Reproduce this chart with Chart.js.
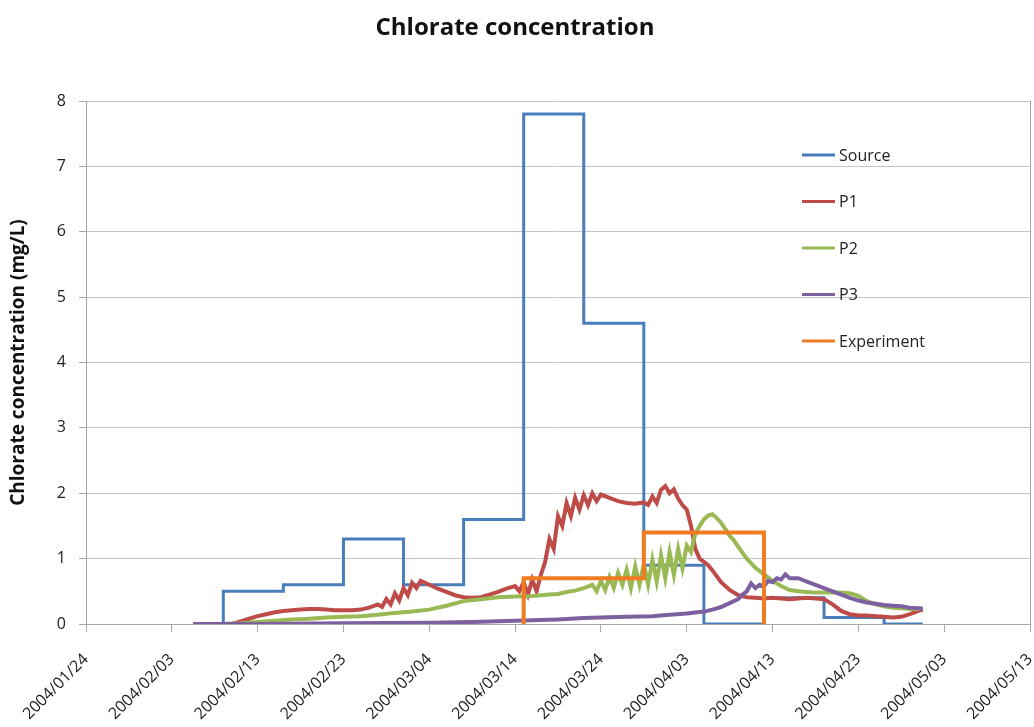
<!DOCTYPE html>
<html lang="en">
<head>
<meta charset="UTF-8">
<script src="https://cdn.jsdelivr.net/npm/chart.js"></script>
<title>Chlorate concentration</title>
<style>
  html, body { margin: 0; padding: 0; background: #fff; }
  #caja { width: 1034px; height: 727px; }
</style>
</head>
<body>
<div id="caja"><canvas id="grafico"></canvas></div>
<script>
// x values are days counted from 2004/01/24
const startDate = Date.UTC(2004, 0, 24);
const xMin = 0, xMax = 110, xStep = 10;
const yMin = 0, yMax = 8, yStep = 1;

const seriesNames = ['Source', 'P1', 'P2', 'P3', 'Experiment'];

// Source: weekly steps (value holds until the next day)
const sourceDays   = [12.5, 16, 23, 30, 37, 44, 51, 58, 65, 72, 79, 86, 93, 97.5];
const sourceValues = [0, 0.5, 0.6, 1.3, 0.6, 1.6, 7.8, 4.6, 0.9, 0, 0.4, 0.1, 0, 0];

// Experiment: steps
const expDays   = [51, 51, 65, 79, 79];
const expValues = [0, 0.7, 1.4, 1.4, 0];

const p1Days = [12.5, 17, 18, 19, 20, 21, 22, 23, 24, 25, 26, 27, 28, 29, 30, 31, 32, 33, 34, 34.5,
  35, 35.5, 36, 36.5, 37, 37.5, 38, 38.5, 39, 40, 41, 42, 43, 44, 45, 46, 47, 48, 49, 50,
  50.5, 51, 51.5, 52, 52.5, 53, 53.5, 54, 54.5, 55, 55.5, 56, 56.5, 57, 57.5, 58, 58.5, 59, 59.5, 60,
  61, 62, 63, 64, 65, 65.5, 66, 66.5, 67, 67.5, 68, 68.5, 69, 69.5, 70, 70.5, 71, 71.5, 72, 72.5,
  73, 74, 75, 76, 77, 78, 79, 80, 81, 82, 83, 84, 85, 86, 87, 88, 89, 90, 91, 92,
  93, 94, 95, 96, 97, 97.5];
const p1Values = [0, 0, 0.04, 0.08, 0.12, 0.15, 0.18, 0.2, 0.21, 0.22, 0.23, 0.23, 0.22, 0.21, 0.21, 0.21, 0.22, 0.25, 0.3, 0.26,
  0.38, 0.3, 0.47, 0.36, 0.55, 0.44, 0.63, 0.55, 0.66, 0.6, 0.54, 0.49, 0.44, 0.41, 0.4, 0.41, 0.45, 0.49, 0.54, 0.58,
  0.5, 0.64, 0.45, 0.68, 0.5, 0.75, 0.95, 1.3, 1.15, 1.65, 1.5, 1.85, 1.65, 1.93, 1.75, 1.97, 1.82, 2.0, 1.88, 1.98,
  1.93, 1.88, 1.85, 1.84, 1.86, 1.82, 1.95, 1.85, 2.05, 2.11, 2.0, 2.06, 1.92, 1.82, 1.75, 1.5, 1.15, 1.0, 0.95, 0.9,
  0.82, 0.64, 0.52, 0.44, 0.41, 0.4, 0.39, 0.4, 0.39, 0.38, 0.39, 0.4, 0.39, 0.38, 0.3, 0.2, 0.15, 0.13, 0.13, 0.12,
  0.11, 0.1, 0.11, 0.15, 0.2, 0.22];

const p2Days = [12.5, 16, 18, 20, 22, 24, 26, 28, 30, 32, 34, 36, 38, 40, 42, 44, 46, 48, 50, 52,
  54, 55, 56, 57, 58, 59, 59.5, 60, 60.5, 61, 61.5, 62, 62.5, 63, 63.5, 64, 64.5, 65, 65.5, 66,
  66.5, 67, 67.5, 68, 68.5, 69, 69.5, 70, 70.5, 71, 71.5, 72, 72.5, 73, 73.5, 74, 74.5, 75, 75.5, 76,
  77, 78, 79, 80, 81, 82, 83, 84, 85, 86, 87, 88, 89, 90, 91, 92, 93, 94, 95, 96,
  97, 97.5];
const p2Values = [0, 0, 0.01, 0.03, 0.05, 0.07, 0.08, 0.1, 0.11, 0.12, 0.14, 0.17, 0.19, 0.22, 0.28, 0.35, 0.38, 0.41, 0.42, 0.43,
  0.45, 0.46, 0.49, 0.51, 0.55, 0.6, 0.5, 0.66, 0.52, 0.72, 0.55, 0.78, 0.6, 0.83, 0.55, 0.88, 0.6, 0.92, 0.6, 0.98,
  0.65, 1.05, 0.7, 1.1, 0.75, 1.15, 0.85, 1.2, 1.1, 1.38, 1.5, 1.6, 1.66, 1.68, 1.62, 1.55, 1.45, 1.35, 1.28, 1.18,
  1.0, 0.86, 0.76, 0.66, 0.58, 0.52, 0.5, 0.49, 0.48, 0.48, 0.48, 0.48, 0.47, 0.43, 0.35, 0.3, 0.27, 0.25, 0.24, 0.23,
  0.23, 0.24];

const p3Days = [12.5, 20, 30, 40, 45, 50, 55, 58, 60, 63, 66, 68, 70, 72, 73, 74, 75, 76, 76.5, 77,
  77.5, 78, 78.5, 79, 79.5, 80, 80.5, 81, 81.5, 82, 83, 84, 85, 86, 87, 88, 89, 90, 91, 92,
  93, 94, 95, 96, 97, 97.5];
const p3Values = [0, 0, 0.01, 0.02, 0.03, 0.05, 0.07, 0.09, 0.1, 0.11, 0.12, 0.14, 0.16, 0.19, 0.22, 0.26, 0.32, 0.38, 0.45, 0.5,
  0.62, 0.55, 0.6, 0.58, 0.66, 0.64, 0.7, 0.68, 0.76, 0.7, 0.7, 0.65, 0.6, 0.55, 0.5, 0.45, 0.4, 0.36, 0.33, 0.31,
  0.29, 0.28, 0.27, 0.25, 0.24, 0.23];

const colores = ['#4a7ebb', '#be4b48', '#98b954', '#7d60a0', '#ef7b22'];
const fuente = "'Open Sans', 'DejaVu Sans', sans-serif";

function puntos(days, values) {
  return days.map((d, i) => ({ x: d, y: values[i] }));
}

function fecha(v) {
  const d = new Date(startDate + v * 86400000);
  const mm = String(d.getUTCMonth() + 1).padStart(2, '0');
  const dd = String(d.getUTCDate()).padStart(2, '0');
  return d.getUTCFullYear() + '/' + mm + '/' + dd;
}

// legend drawn at the right, inside the plot
const leyenda = {
  id: 'leyenda',
  afterDatasetsDraw(chart) {
    const ctx = chart.ctx;
    const area = chart.chartArea;
    const x0 = area.right - 228;
    ctx.save();
    ctx.font = '16px ' + fuente;
    ctx.textBaseline = 'middle';
    ctx.fillStyle = '#222';
    chart.data.datasets.forEach((ds, i) => {
      const y = area.top + 54 + i * 46.5;
      ctx.strokeStyle = ds.borderColor;
      ctx.lineWidth = 3;
      ctx.beginPath();
      ctx.moveTo(x0, y);
      ctx.lineTo(x0 + 33, y);
      ctx.stroke();
      ctx.fillText(ds.label, x0 + 37, y + 1);
    });
    ctx.restore();
  }
};

const datos = [
  { label: seriesNames[0], data: puntos(sourceDays, sourceValues), stepped: true, borderWidth: 3, order: 5 },
  { label: seriesNames[1], data: puntos(p1Days, p1Values), borderWidth: 4, order: 4 },
  { label: seriesNames[2], data: puntos(p2Days, p2Values), borderWidth: 4, order: 3 },
  { label: seriesNames[3], data: puntos(p3Days, p3Values), borderWidth: 4, order: 2 },
  { label: seriesNames[4], data: puntos(expDays, expValues), stepped: true, borderWidth: 4, order: 1 }
].map((ds, i) => Object.assign(ds, {
  borderColor: colores[i],
  backgroundColor: colores[i],
  pointRadius: 0,
  fill: false,
  tension: 0
}));

new Chart(document.getElementById('grafico'), {
  type: 'line',
  data: { datasets: datos },
  options: {
    responsive: true,
    maintainAspectRatio: false,
    animation: false,
    devicePixelRatio: 1,
    layout: { padding: { right: 4, left: 0, bottom: 0 } },
    plugins: {
      legend: { display: false },
      tooltip: { enabled: false },
      title: {
        display: true,
        text: 'Chlorate concentration',
        color: '#111',
        font: { family: fuente, size: 24, weight: 'bold' },
        padding: { top: 14, bottom: 58.2 }
      }
    },
    scales: {
      x: {
        type: 'linear',
        min: xMin,
        max: xMax,
        afterFit: s => { s.height = 103; s.paddingRight = 0; s.paddingLeft = 0; },
        ticks: {
          stepSize: xStep,
          autoSkip: false,
          minRotation: 45,
          maxRotation: 45,
          padding: 18,
          color: '#222',
          font: { family: fuente, size: 16 },
          callback: v => fecha(v)
        },
        grid: {
          drawOnChartArea: true,
          color: c => (c.tick && c.tick.value === xMax) ? '#a6a6a6' : 'rgba(0,0,0,0)',
          tickColor: '#a6a6a6',
          tickLength: 8
        },
        border: { display: true, color: '#a6a6a6', width: 1 }
      },
      y: {
        min: yMin,
        max: yMax,
        afterFit: s => { s.width = 86; },
        ticks: {
          stepSize: yStep,
          padding: 13,
          color: '#222',
          font: { family: fuente, size: 16 }
        },
        grid: { color: '#c4c4c4', tickColor: '#a6a6a6', tickLength: 7 },
        border: { display: true, color: '#a6a6a6', width: 1 },
        title: {
          display: true,
          text: 'Chlorate concentration (mg/L)',
          color: '#111',
          font: { family: fuente, size: 19, weight: 'bold' },
          padding: { top: 7, bottom: 4 }
        }
      }
    }
  },
  plugins: [leyenda]
});
</script>
</body>
</html>
